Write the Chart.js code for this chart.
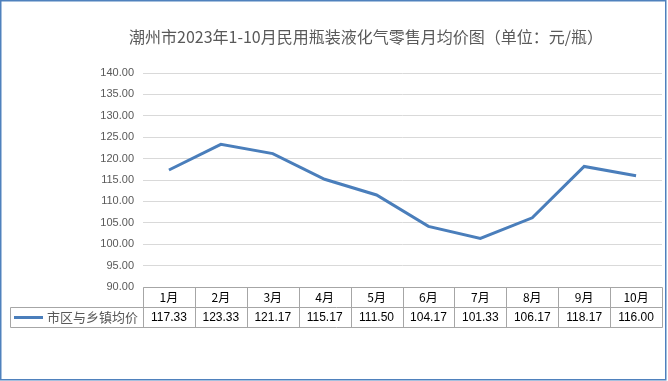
<!DOCTYPE html>
<html>
<head>
<meta charset="utf-8">
<script src="https://cdn.jsdelivr.net/npm/chart.js@4"></script>
<style>
html,body{margin:0;padding:0;background:#fff;}
#wrap{width:668px;height:381px;position:relative;}
</style>
</head>
<body>
<div id="wrap"><canvas id="c" width="668" height="381"></canvas></div>
<script>
const titleText = '潮州市2023年1-10月民用瓶装液化气零售月均价图（单位：元/瓶）';
const categories = ['1月','2月','3月','4月','5月','6月','7月','8月','9月','10月'];
const seriesName = '市区与乡镇均价';
const seriesValues = [117.33, 123.33, 121.17, 115.17, 111.50, 104.17, 101.33, 106.17, 118.17, 116.00];
const yMin = 90, yMax = 140, yStep = 5;

const LINE_COLOR = '#4a7ebb';
const CJK = '"Noto Sans CJK SC", "Noto Sans", sans-serif';
const LAT = '"Liberation Sans", Arial, sans-serif';

const bgAndFrame = {
  id: 'bgAndFrame',
  beforeDraw(chart) {
    const ctx = chart.ctx;
    ctx.save();
    ctx.fillStyle = '#fff';
    ctx.fillRect(0, 0, chart.width, chart.height);
    ctx.restore();
  },
  afterDraw(chart) {
    const ctx = chart.ctx;
    const xs = chart.scales.x;
    const area = chart.chartArea;
    ctx.save();
    // title
    ctx.fillStyle = '#595959';
    ctx.font = '16px ' + CJK;
    ctx.textAlign = 'center';
    ctx.textBaseline = 'middle';
    ctx.fillText(titleText, 366, 37);

    // data table
    const n = categories.length;
    const bw = (xs.right - xs.left) / n;
    const top = Math.round(area.bottom) + 0.5;
    const rowH = 20;
    const leftCol = 10.5;
    const right = Math.round(xs.right) + 0.5;
    ctx.strokeStyle = '#a6a6a6';
    ctx.lineWidth = 1;
    ctx.beginPath();
    ctx.moveTo(Math.round(xs.left) + 0.5, top); ctx.lineTo(right, top);
    ctx.moveTo(leftCol, top + rowH); ctx.lineTo(right, top + rowH);
    ctx.moveTo(leftCol, top + 2 * rowH); ctx.lineTo(right, top + 2 * rowH);
    ctx.moveTo(leftCol, top + rowH); ctx.lineTo(leftCol, top + 2 * rowH);
    for (let i = 0; i <= n; i++) {
      const x = Math.round(xs.left + i * bw) + 0.5;
      ctx.moveTo(x, top); ctx.lineTo(x, top + 2 * rowH);
    }
    ctx.stroke();

    ctx.textAlign = 'center';
    ctx.textBaseline = 'middle';
    for (let i = 0; i < n; i++) {
      const cx = xs.getPixelForValue(i);
      ctx.fillStyle = '#000';
      ctx.font = '12px ' + CJK;
      ctx.fillText(categories[i], cx, top + rowH / 2);
      ctx.font = '12px ' + LAT;
      ctx.fillText(seriesValues[i].toFixed(2), cx, top + rowH * 1.5);
    }
    // legend key
    ctx.strokeStyle = LINE_COLOR;
    ctx.lineWidth = 3;
    ctx.beginPath();
    ctx.moveTo(14, top + rowH * 1.5);
    ctx.lineTo(43, top + rowH * 1.5);
    ctx.stroke();
    ctx.fillStyle = '#595959';
    ctx.font = '13px ' + CJK;
    ctx.textAlign = 'left';
    ctx.fillText(seriesName, 47, top + rowH * 1.5);

    // outer frame
    ctx.strokeStyle = '#4f81bd';
    ctx.lineWidth = 1.5;
    ctx.strokeRect(0.75, 0.75, 665, 379);
    ctx.restore();
  }
};

new Chart(document.getElementById('c'), {
  type: 'line',
  data: {
    labels: categories,
    datasets: [{
      label: seriesName,
      data: seriesValues,
      borderColor: LINE_COLOR,
      backgroundColor: LINE_COLOR,
      borderWidth: 3,
      pointRadius: 0,
      tension: 0,
      fill: false
    }]
  },
  options: {
    responsive: false,
    devicePixelRatio: 1,
    animation: false,
    layout: { padding: { left: 0, top: 73, right: 6, bottom: 94 } },
    plugins: { legend: { display: false }, tooltip: { enabled: false }, title: { display: false } },
    scales: {
      x: {
        type: 'category',
        offset: true,
        display: false
      },
      y: {
        min: yMin,
        max: yMax,
        afterFit(scale) { scale.width = 143; },
        border: { display: false },
        grid: { color: '#d9d9d9', lineWidth: 1, drawTicks: false },
        ticks: {
          stepSize: yStep,
          padding: 9,
          color: '#595959',
          font: { family: LAT, size: 11 },
          callback: v => Number(v).toFixed(2)
        }
      }
    }
  },
  plugins: [bgAndFrame]
});
</script>
</body>
</html>
